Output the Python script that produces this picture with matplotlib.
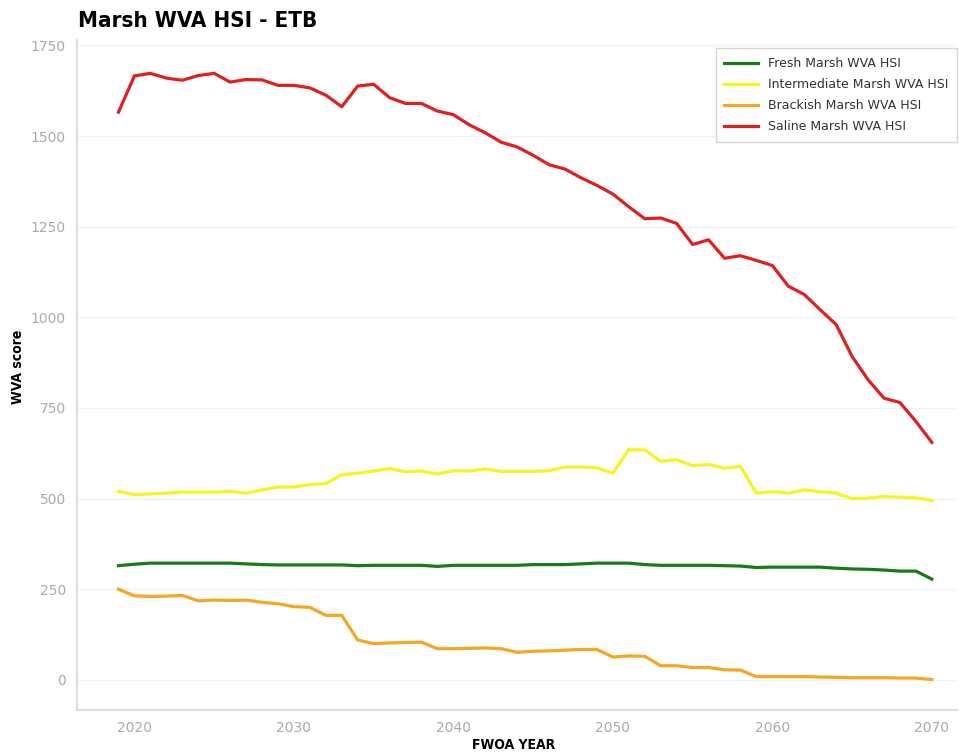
import numpy as np
import matplotlib.pyplot as plt

years = np.arange(2019, 2071)

fresh = [315, 319, 322, 322, 322, 322, 322, 322, 320, 318, 317, 317, 317, 317, 317,
         315, 316, 316, 316, 316, 313, 316, 316, 316, 316, 316, 318, 318, 318, 320,
         322, 322, 322, 318, 316, 316, 316, 316, 315, 314, 310, 311, 311, 311, 311,
         308, 306, 305, 303, 300, 300, 278]

intermediate = [520, 511, 513, 515, 518, 518, 518, 520, 515, 524, 532, 532, 539, 541,
                566, 570, 576, 583, 574, 576, 568, 577, 576, 582, 575, 575, 575, 577,
                587, 587, 585, 570, 635, 634, 603, 607, 591, 594, 584, 589, 515, 519,
                515, 524, 519, 515, 500, 501, 506, 504, 502, 495]

brackish = [250, 232, 230, 231, 233, 218, 220, 219, 220, 214, 210, 202, 200, 178,
            178, 110, 100, 102, 103, 104, 86, 86, 87, 88, 86, 76, 79, 80, 82, 84,
            84, 63, 66, 65, 39, 39, 34, 34, 28, 27, 9, 9, 9, 9, 8, 7, 6, 6, 6, 5,
            5, 1]

saline = [1566, 1666, 1673, 1660, 1654, 1667, 1673, 1649, 1656, 1655, 1640, 1640,
          1633, 1613, 1581, 1638, 1643, 1606, 1590, 1590, 1569, 1559, 1531, 1509,
          1483, 1470, 1447, 1421, 1409, 1385, 1364, 1340, 1305, 1272, 1274, 1259,
          1201, 1214, 1163, 1170, 1157, 1143, 1086, 1063, 1021, 980, 892, 828, 777,
          765, 713, 655]

series = [
    ("Fresh Marsh WVA HSI", fresh, "#1a7a1a"),
    ("Intermediate Marsh WVA HSI", intermediate, "#f5f522"),
    ("Brackish Marsh WVA HSI", brackish, "#f5a623"),
    ("Saline Marsh WVA HSI", saline, "#e01f1f"),
]

fig = plt.figure(figsize=(9.59, 7.54), dpi=100)
ax = fig.add_axes([0.0803, 0.0584, 0.918, 0.889])

for name, vals, col in series:
    ax.plot(years, vals, color=col, lw=2.3, label=name)

ax.set_xlim(2016.4, 2071.6)
ax.set_ylim(-83, 1766)
ax.set_yticks([0, 250, 500, 750, 1000, 1250, 1500, 1750])
ax.set_xticks([2020, 2030, 2040, 2050, 2060, 2070])
ax.tick_params(colors="#aaaaaa", labelsize=10, length=0, pad=8)
ax.grid(axis="y", color="#f2f2f2", lw=1)
ax.set_axisbelow(True)
for s in ["top", "right"]:
    ax.spines[s].set_visible(False)
for s in ["left", "bottom"]:
    ax.spines[s].set_color("#dddddd")
    ax.spines[s].set_linewidth(1.5)

fig.text(0.535, 0.012, "FWOA YEAR", fontsize=10, fontweight="bold",
         fontstretch="condensed", ha="center", va="center")
fig.text(0.019, 0.513, "WVA score", fontsize=10, fontweight="bold",
         fontstretch="condensed", ha="center", va="center", rotation=90)
fig.text(0.081, 0.972, "Marsh WVA HSI - ETB", fontsize=16, fontweight="bold",
         fontstretch="condensed", va="center")

leg = ax.legend(loc="upper right", bbox_to_anchor=(1.0, 0.987), borderaxespad=0,
                fontsize=9, frameon=True, fancybox=False, edgecolor="#cccccc",
                handlelength=2.7, handletextpad=0.8, labelcolor="#333333",
                borderpad=0.7, labelspacing=0.65)

fig.savefig("out.png", dpi=100)
